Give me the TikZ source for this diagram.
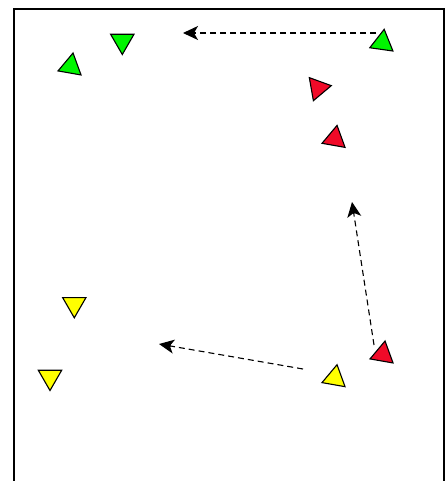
\documentclass[tikz,border=0pt]{standalone}
\usepackage{tikz}
\usetikzlibrary{arrows.meta, shapes.geometric, calc}

\definecolor{agentgreen}{RGB}{0,245,0}
\definecolor{agentred}{RGB}{240,10,40}
\definecolor{agentyellow}{RGB}{255,255,0}

\begin{document}
\begin{tikzpicture}[x=1pt, y=1pt,
    agent/.style={regular polygon, regular polygon sides=3, draw=black, line width=1.1pt,
      inner sep=0pt, minimum size=27pt},
    move/.style={dash pattern=on 6pt off 4pt, line width=1.1pt, shorten >=10pt},
    head/.style={-{Stealth[length=15pt,width=14pt,inset=4pt]}, solid, line width=1.1pt, fill=black}]
    \useasboundingbox (0,0) rectangle (447,-481);
    \draw[line width=1.3pt] (14,-481) -- (14,-9) -- (444,-9) -- (444,-481);

    % green group
    \node[agent, fill=agentgreen, rotate=-10] (g1) at (70.7,-66.3) {};
    \node[agent, fill=agentgreen, rotate=180] (g2) at (122.3,-41) {};
    \node[agent, fill=agentgreen, rotate=-8] (g3) at (382.3,-42.7) {};

    % red group
    \node[agent, fill=agentred, rotate=-80] (r1) at (318,-88) {};
    \node[agent, fill=agentred, rotate=-10] (r2) at (334.7,-138.7) {};
    \node[agent, fill=agentred, rotate=-10] (r3) at (382.7,-354.3) {};

    % yellow group
    \node[agent, fill=agentyellow, rotate=180] (y1) at (74.3,-304.3) {};
    \node[agent, fill=agentyellow, rotate=180] (y2) at (50,-377) {};
    \node[agent, fill=agentyellow, rotate=-10] (y3) at (334.7,-378) {};

    % headings
    \coordinate (g3s) at (376,-33);
    \coordinate (g3t) at (183,-33);
    \coordinate (r3s) at (374,-345);
    \coordinate (r3t) at (352,-202);
    \coordinate (y3s) at (303,-369);
    \coordinate (y3t) at (159,-344);
    \foreach \a in {g3, r3, y3} {
      \draw[move] (\a s) -- (\a t);
      \draw[head] ($(\a t)!12pt!(\a s)$) -- (\a t);
    }
  \end{tikzpicture}
\end{document}
